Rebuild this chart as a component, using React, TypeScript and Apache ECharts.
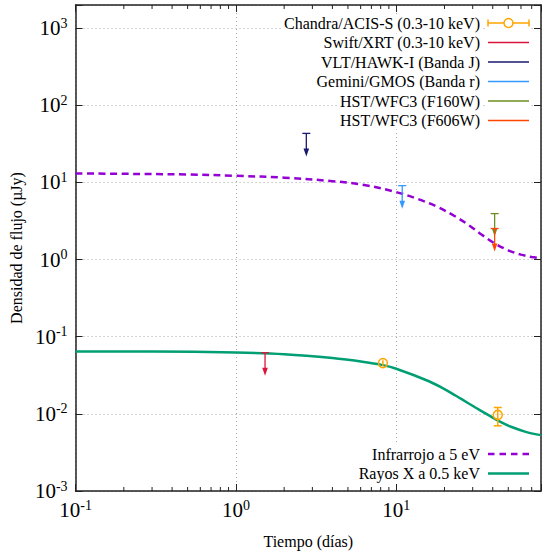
import React, { useEffect, useRef } from 'react';
import * as echarts from 'echarts';

const FONT = "'Liberation Serif', 'Times New Roman', serif";
const AXIS_COLOR = '#222';

// Axis ranges
const xMin = 0.1;
const xMax = 80;
const yMin = 0.001;
const yMax = 2000;
const xMinorTicks = [0.2, 0.3, 0.4, 0.5, 0.6, 0.7, 0.8, 0.9, 2, 3, 4, 5, 6, 7, 8, 9, 20, 30, 40, 50, 60, 70];

// Model curves
const irTime = [0.1, 0.2, 0.5, 1, 2, 4, 6.3, 10, 13.4, 18, 23.4, 28, 34, 41, 50, 60, 70, 80];
const irFlux = [13.1, 12.95, 12.7, 12.2, 11.55, 10.4, 9.3, 7.5, 6.2, 4.85, 3.62, 2.85, 2.12, 1.63, 1.32, 1.16, 1.08, 1.04];
const xrTime = [0.1, 0.3, 1, 2, 4, 6.3, 8, 10, 16, 20.4, 25.6, 31, 37.4, 45, 52, 65, 80];
const xrFlux = [0.0645, 0.0643, 0.0625, 0.0595, 0.053, 0.0472, 0.0435, 0.0385, 0.0265, 0.0205, 0.0155, 0.0122, 0.0097, 0.0078, 0.0068, 0.0058, 0.0053];

// Chandra detections
const chandraTime = [8.26, 43];
const chandraFlux = [0.0455, 0.0097];
const chandraLow = [0.0418, 0.007];
const chandraHigh = [0.0495, 0.0121];

// Upper limits
const swiftTime = [1.52];
const swiftFlux = [0.062];
const vltTime = [2.75];
const vltFlux = [43.3];
const geminiTime = [10.9];
const geminiFlux = [9.1];
const f160Time = [41.1];
const f160Flux = [3.95];
const f606Time = [41.1];
const f606Flux = [2.53];

const COLORS = {
  chandra: '#FFA500',
  swift: '#DC143C',
  vlt: '#191970',
  gemini: '#3399FF',
  f160: '#6B8E23',
  f606: '#FF4500',
  ir: '#9400D3',
  xr: '#009E73',
};

const topLegendNames = [
  'Chandra/ACIS-S (0.3-10 keV)',
  'Swift/XRT (0.3-10 keV)',
  'VLT/HAWK-I (Banda J)',
  'Gemini/GMOS (Banda r)',
  'HST/WFC3 (F160W)',
  'HST/WFC3 (F606W)',
];
const topLegendColors = [COLORS.chandra, COLORS.swift, COLORS.vlt, COLORS.gemini, COLORS.f160, COLORS.f606];
const bottomLegendNames = ['Infrarrojo a 5 eV', 'Rayos X a 0.5 keV'];
const bottomLegendColors = [COLORS.ir, COLORS.xr];

const ARROW_LEN = 23;

function limitSeries(name: string, t: number[], f: number[], color: string) {
  return {
    name,
    type: 'custom',
    xAxisIndex: 0,
    yAxisIndex: 0,
    itemStyle: { color },
    z: 5,
    data: t.map((v, i) => [v, f[i]]),
    encode: { x: 0, y: 1 },
    renderItem: (params: any, api: any) => {
      const p = api.coord([api.value(0), api.value(1)]);
      const c = api.visual('color');
      const x = p[0];
      const y = p[1];
      return {
        type: 'group',
        children: [
          { type: 'line', shape: { x1: x - 4, y1: y, x2: x + 4, y2: y }, style: { stroke: c, lineWidth: 1.3 } },
          { type: 'line', shape: { x1: x, y1: y, x2: x, y2: y + ARROW_LEN - 5 }, style: { stroke: c, lineWidth: 1.3 } },
          {
            type: 'polygon',
            shape: { points: [[x - 2.8, y + ARROW_LEN - 8], [x + 2.8, y + ARROW_LEN - 8], [x, y + ARROW_LEN]] },
            style: { fill: c },
          },
        ],
      };
    },
  };
}

function powLabel(v: number) {
  const e = Math.log10(v);
  const r = Math.round(e);
  if (Math.abs(e - r) > 1e-6) return '';
  return '{b|10}{s|' + r + '}';
}

const labelRich = {
  b: { fontSize: 21, fontFamily: FONT, color: '#000' },
  s: { fontSize: 14, fontFamily: FONT, color: '#000', padding: [0, 0, 10, 0] },
};

const gridLine = { show: true, lineStyle: { type: [1, 3], color: '#a8a8a8', width: 1 } };

export default function App() {
  const ref = useRef<HTMLDivElement>(null);

  useEffect(() => {
    if (!ref.current) return;
    const chart = echarts.init(ref.current, undefined, { renderer: 'svg' });

    const graphics: any[] = [];
    const textX = 481;
    const sx1 = 488;
    const sx2 = 529;
    topLegendNames.forEach((name, i) => {
      const y = 23 + i * 19.5;
      graphics.push({
        type: 'rect',
        shape: { x: sx1 - 2, y: y - 8, width: sx2 - sx1 + 4, height: 16 },
        style: { fill: '#fff' },
        z: 10,
      });
      graphics.push({
        type: 'text',
        x: textX,
        y,
        z: 11,
        style: {
          text: name,
          align: 'right',
          verticalAlign: 'middle',
          font: '16px ' + FONT,
          fill: '#000',
          backgroundColor: '#fff',
          padding: [1, 1],
        },
      });
      const c = topLegendColors[i];
      if (i === 0) {
        graphics.push({ type: 'line', z: 11, shape: { x1: sx1, y1: y, x2: sx2, y2: y }, style: { stroke: c, lineWidth: 1.5 } });
        graphics.push({ type: 'line', z: 11, shape: { x1: sx1, y1: y - 3.5, x2: sx1, y2: y + 3.5 }, style: { stroke: c, lineWidth: 1.5 } });
        graphics.push({ type: 'line', z: 11, shape: { x1: sx2, y1: y - 3.5, x2: sx2, y2: y + 3.5 }, style: { stroke: c, lineWidth: 1.5 } });
        graphics.push({ type: 'circle', z: 12, shape: { cx: (sx1 + sx2) / 2, cy: y, r: 4.5 }, style: { stroke: c, fill: '#fff', lineWidth: 1.5 } });
      } else {
        graphics.push({ type: 'line', z: 11, shape: { x1: sx1, y1: y, x2: sx2, y2: y }, style: { stroke: c, lineWidth: 1.5 } });
      }
    });
    bottomLegendNames.forEach((name, i) => {
      const y = 454 + i * 19.5;
      graphics.push({
        type: 'rect',
        shape: { x: sx1 - 2, y: y - 8, width: sx2 - sx1 + 4, height: 16 },
        style: { fill: '#fff' },
        z: 10,
      });
      graphics.push({
        type: 'text',
        x: textX,
        y,
        z: 11,
        style: {
          text: name,
          align: 'right',
          verticalAlign: 'middle',
          font: '16px ' + FONT,
          fill: '#000',
          backgroundColor: '#fff',
          padding: [1, 1],
        },
      });
      graphics.push({
        type: 'line',
        z: 11,
        shape: { x1: sx1, y1: y, x2: sx2, y2: y },
        style: { stroke: bottomLegendColors[i], lineWidth: 2.5, lineDash: i === 0 ? [6.5, 5] : null },
      });
    });

    const option: any = {
      animation: false,
      backgroundColor: '#fff',
      textStyle: { fontFamily: FONT },
      grid: { left: 68, top: 5, width: 476, height: 486, containLabel: false },
      xAxis: [
        {
          type: 'log',
          logBase: 10,
          min: xMin,
          max: xMax,
          position: 'bottom',
          name: 'Tiempo (días)',
          nameLocation: 'middle',
          nameGap: 42,
          nameTextStyle: { fontSize: 16, fontFamily: FONT, color: '#000' },
          axisLine: { show: true, onZero: false, lineStyle: { color: AXIS_COLOR, width: 1.5 } },
          axisTick: { show: true, inside: true, length: 7, lineStyle: { color: AXIS_COLOR, width: 1 } },
          axisLabel: { formatter: powLabel, rich: labelRich, margin: 7 },
          splitLine: gridLine,
        },
        {
          type: 'log',
          logBase: 10,
          min: xMin,
          max: xMax,
          position: 'top',
          axisLine: { show: true, onZero: false, lineStyle: { color: AXIS_COLOR, width: 1.5 } },
          axisTick: { show: true, inside: true, length: 7, lineStyle: { color: AXIS_COLOR, width: 1 } },
          axisLabel: { show: false },
          splitLine: { show: false },
        },
      ],
      yAxis: [
        {
          type: 'log',
          logBase: 10,
          min: yMin,
          max: yMax,
          position: 'left',
          name: 'Densidad de flujo (µJy)',
          nameLocation: 'middle',
          nameGap: 46,
          nameTextStyle: { fontSize: 16, fontFamily: FONT, color: '#000' },
          axisLine: { show: true, onZero: false, lineStyle: { color: AXIS_COLOR, width: 1.5 } },
          axisTick: { show: true, inside: true, length: 7, lineStyle: { color: AXIS_COLOR, width: 1 } },
          axisLabel: { formatter: powLabel, rich: labelRich, margin: 8 },
          splitLine: gridLine,
        },
        {
          type: 'log',
          logBase: 10,
          min: yMin,
          max: yMax,
          position: 'right',
          axisLine: { show: true, onZero: false, lineStyle: { color: AXIS_COLOR, width: 1.5 } },
          axisTick: { show: true, inside: true, length: 7, lineStyle: { color: AXIS_COLOR, width: 1 } },
          axisLabel: { show: false },
          splitLine: { show: false },
        },
      ],
      graphic: graphics,
      series: [
        {
          name: 'minorTicks',
          type: 'custom',
          xAxisIndex: 0,
          yAxisIndex: 0,
          silent: true,
          data: xMinorTicks.map((v) => [v, 1]),
          encode: { x: 0, y: 1 },
          renderItem: (params: any, api: any) => {
            const v = api.value(0);
            const b = api.coord([v, yMin]);
            const t = api.coord([v, yMax]);
            return {
              type: 'group',
              children: [
                { type: 'line', shape: { x1: b[0], y1: b[1], x2: b[0], y2: b[1] - 4 }, style: { stroke: AXIS_COLOR, lineWidth: 1 } },
                { type: 'line', shape: { x1: t[0], y1: t[1], x2: t[0], y2: t[1] + 4 }, style: { stroke: AXIS_COLOR, lineWidth: 1 } },
              ],
            };
          },
        },
        {
          name: 'Infrarrojo a 5 eV',
          type: 'line',
          xAxisIndex: 0,
          yAxisIndex: 0,
          smooth: 0.35,
          showSymbol: false,
          symbol: 'none',
          data: irTime.map((t, i) => [t, irFlux[i]]),
          lineStyle: { color: COLORS.ir, width: 2.5, type: [7, 4.5] },
          z: 3,
        },
        {
          name: 'Rayos X a 0.5 keV',
          type: 'line',
          xAxisIndex: 0,
          yAxisIndex: 0,
          smooth: 0.35,
          showSymbol: false,
          symbol: 'none',
          data: xrTime.map((t, i) => [t, xrFlux[i]]),
          lineStyle: { color: COLORS.xr, width: 2.5 },
          z: 3,
        },
        {
          name: 'Chandra/ACIS-S (0.3-10 keV)',
          type: 'custom',
          xAxisIndex: 0,
          yAxisIndex: 0,
          z: 6,
          itemStyle: { color: COLORS.chandra },
          data: chandraTime.map((t, i) => [t, chandraFlux[i], chandraLow[i], chandraHigh[i]]),
          encode: { x: 0, y: 1 },
          renderItem: (params: any, api: any) => {
            const t = api.value(0);
            const c = api.coord([t, api.value(1)]);
            const lo = api.coord([t, api.value(2)]);
            const hi = api.coord([t, api.value(3)]);
            const col = api.visual('color');
            const children: any[] = [
              { type: 'line', shape: { x1: c[0], y1: hi[1], x2: c[0], y2: lo[1] }, style: { stroke: col, lineWidth: 1.5 } },
            ];
            if (lo[1] - hi[1] > 10) {
              children.push({ type: 'line', shape: { x1: c[0] - 4, y1: hi[1], x2: c[0] + 4, y2: hi[1] }, style: { stroke: col, lineWidth: 1.5 } });
              children.push({ type: 'line', shape: { x1: c[0] - 4, y1: lo[1], x2: c[0] + 4, y2: lo[1] }, style: { stroke: col, lineWidth: 1.5 } });
            }
            children.push({ type: 'circle', shape: { cx: c[0], cy: c[1], r: 4.5 }, style: { stroke: col, fill: 'none', lineWidth: 1.5 } });
            return { type: 'group', children };
          },
        },
        limitSeries('Swift/XRT (0.3-10 keV)', swiftTime, swiftFlux, COLORS.swift),
        limitSeries('VLT/HAWK-I (Banda J)', vltTime, vltFlux, COLORS.vlt),
        limitSeries('Gemini/GMOS (Banda r)', geminiTime, geminiFlux, COLORS.gemini),
        limitSeries('HST/WFC3 (F160W)', f160Time, f160Flux, COLORS.f160),
        limitSeries('HST/WFC3 (F606W)', f606Time, f606Flux, COLORS.f606),
      ],
    };

    chart.setOption(option);
    return () => {
      chart.dispose();
    };
  }, []);

  return (
    <div
      ref={ref}
      style={{ position: 'fixed', left: 0, top: 0, width: 544, height: 554, background: '#fff' }}
    />
  );
}
